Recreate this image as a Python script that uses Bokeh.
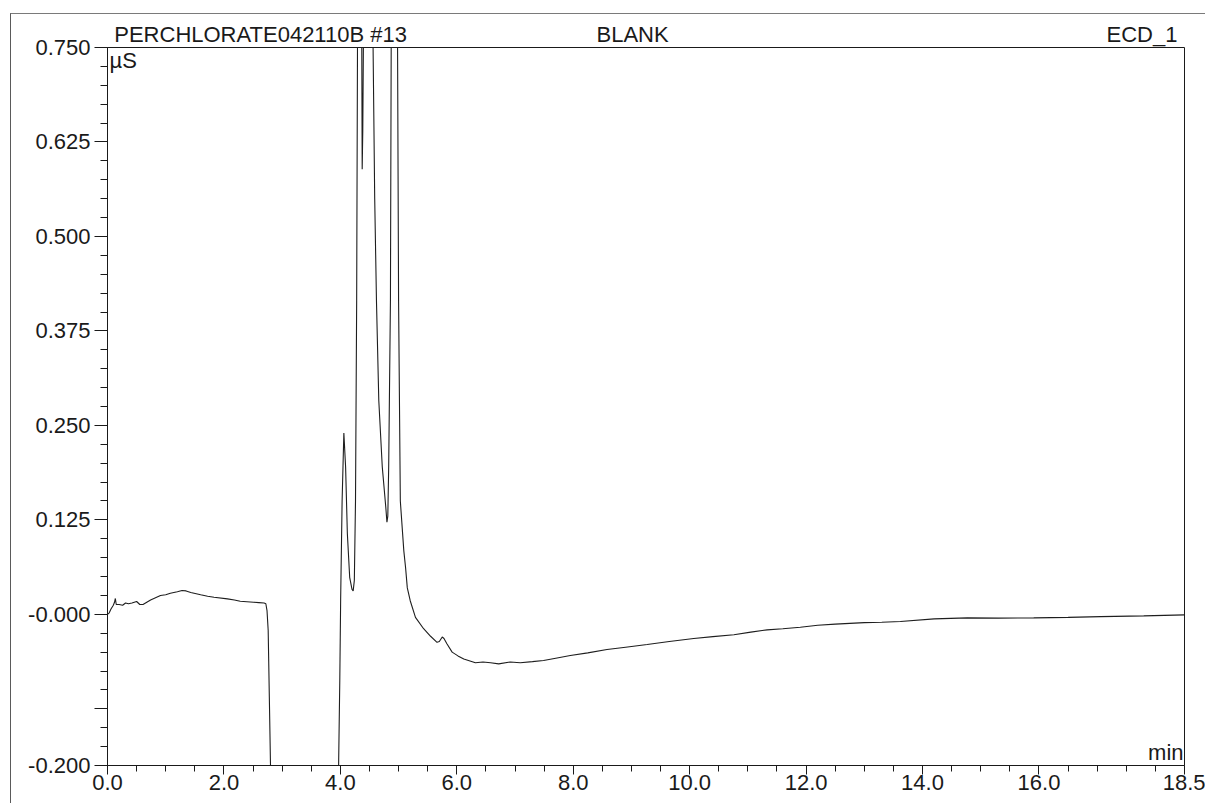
from bokeh.plotting import figure
from bokeh.models import FixedTicker, Label, LinearAxis, Range1d
from bokeh.embed import file_html
from bokeh.resources import INLINE

# ---- data ----
time_min = [
    0.00, 0.03, 0.06, 0.10, 0.12, 0.135, 0.15, 0.20, 0.26, 0.31, 0.36, 0.42, 0.50,
    0.555, 0.61, 0.74, 0.91, 1.00, 1.08, 1.20, 1.28, 1.35, 1.43, 1.60, 1.72, 1.83,
    2.06, 2.18, 2.28, 2.51, 2.60, 2.69, 2.72, 2.74, 2.76, 2.78, 2.80, 2.84, 3.20,
    3.70, 3.94, 3.97, 3.99, 4.005, 4.03, 4.06, 4.09, 4.12, 4.16, 4.20, 4.22, 4.24,
    4.26, 4.28, 4.33, 4.375, 4.385, 4.40, 4.48, 4.555, 4.59, 4.62, 4.66, 4.72, 4.78,
    4.80, 4.815, 4.83, 4.86, 4.875, 4.93, 4.98, 5.00, 5.03, 5.09, 5.12, 5.15, 5.20,
    5.29, 5.43, 5.55, 5.66, 5.70, 5.75, 5.78, 5.83, 5.92, 6.02, 6.12, 6.32, 6.45,
    6.58, 6.72, 6.92, 7.09, 7.30, 7.49, 7.70, 7.95, 8.25, 8.58, 8.90, 9.27, 9.65,
    10.07, 10.40, 10.76, 11.05, 11.33, 11.60, 11.90, 12.20, 12.50, 13.00, 13.30,
    13.62, 14.20, 14.77, 15.30, 15.91, 16.50, 17.06, 17.80, 18.50,
]
signal_us = [
    0.000, 0.002, 0.007, 0.012, 0.016, 0.021, 0.013, 0.013, 0.012, 0.015, 0.014, 0.015, 0.017,
    0.013, 0.013, 0.019, 0.025, 0.026, 0.028, 0.030, 0.0315, 0.031, 0.029, 0.026, 0.024, 0.0226,
    0.0205, 0.019, 0.0173, 0.016, 0.0155, 0.015, 0.014, 0.005, -0.021, -0.110, -0.200, -0.450, -0.700,
    -0.650, -0.400, -0.200, -0.088, 0.020, 0.150, 0.240, 0.195, 0.107, 0.049, 0.033, 0.031, 0.045,
    0.150, 0.415, 1.600, 0.589, 0.640, 0.800, 2.500, 0.800, 0.550, 0.415, 0.283, 0.195, 0.142,
    0.122, 0.130, 0.195, 0.415, 0.800, 3.000, 0.800, 0.415, 0.150, 0.084, 0.062, 0.035, 0.018,
    -0.004, -0.019, -0.029, -0.037, -0.036, -0.030, -0.032, -0.039, -0.050, -0.055, -0.059, -0.064, -0.063,
    -0.064, -0.0655, -0.063, -0.064, -0.0625, -0.061, -0.058, -0.0545, -0.051, -0.0466, -0.0435, -0.040, -0.036,
    -0.032, -0.0295, -0.027, -0.0235, -0.0205, -0.019, -0.017, -0.0145, -0.013, -0.011, -0.0105,
    -0.0095, -0.006, -0.0047, -0.005, -0.0047, -0.004, -0.003, -0.002, -0.0007,
]

x_ticks = [0.0, 2.0, 4.0, 6.0, 8.0, 10.0, 12.0, 14.0, 16.0, 18.5]
x_tick_labels = ["0.0", "2.0", "4.0", "6.0", "8.0", "10.0", "12.0", "14.0", "16.0", "18.5"]
y_ticks = [-0.2, -0.125, 0.0, 0.125, 0.25, 0.375, 0.5, 0.625, 0.75]
y_tick_labels = ["-0.200", "", "-0.000", "0.125", "0.250", "0.375", "0.500", "0.625", "0.750"]

header_texts = ["PERCHLORATE042110B #13", "BLANK", "ECD_1"]
header_pos = [2.63, 9.02, 17.77]
y_unit = "µS"
x_unit = "min"

FONT = "Liberation Sans"
INK = "#1a1a1a"
FS = "22px"

# canvas starts at page (11, 14) because of margin + 1px CSS border
p = figure(width=1195, height=790, output_backend="svg", toolbar_location=None,
           x_range=Range1d(0, 18.5), y_range=Range1d(-0.2, 0.75),
           min_border_left=96, min_border_right=22, min_border_top=33, min_border_bottom=39)
p.margin = (13, 0, 0, 10)
p.styles = {"border-top": "1px solid #7a7a7a", "border-left": "1px solid #5a5a5a"}
p.background_fill_color = "white"
p.border_fill_color = "white"
p.grid.visible = False
p.outline_line_color = INK
p.outline_line_width = 1

x_minor = [i * 0.5 for i in range(1, 37) if (i * 0.5) not in x_ticks]
y_minor = [round(-0.2 + i * 0.025, 3) for i in range(0, 39)]

p.xaxis.ticker = FixedTicker(ticks=x_ticks, minor_ticks=x_minor)
p.xaxis.major_label_overrides = {t: l for t, l in zip(x_ticks, x_tick_labels)}
p.yaxis.ticker = FixedTicker(ticks=y_ticks, minor_ticks=y_minor)
p.yaxis.major_label_overrides = {t: l for t, l in zip(y_ticks, y_tick_labels)}

for ax in (p.xaxis, p.yaxis):
    ax.axis_line_color = INK
    ax.major_tick_line_color = INK
    ax.minor_tick_line_color = INK
    ax.major_tick_in = 0
    ax.minor_tick_in = 0
    ax.major_label_text_font = FONT
    ax.major_label_text_font_size = FS
    ax.major_label_text_color = INK

p.xaxis.major_tick_out = 9
p.xaxis.minor_tick_out = 6
p.xaxis.major_label_standoff = 0
p.yaxis.major_tick_out = 13
p.yaxis.minor_tick_out = 7
p.yaxis.major_label_standoff = 4

# header texts carried by a bare axis above the frame
top = LinearAxis(ticker=FixedTicker(ticks=header_pos, minor_ticks=[]),
                 major_label_overrides={t: s for t, s in zip(header_pos, header_texts)},
                 axis_line_color=None, major_tick_line_color=None, minor_tick_line_color=None,
                 major_tick_out=0, major_label_standoff=1,
                 major_label_text_font=FONT, major_label_text_font_size=FS,
                 major_label_text_color=INK)
p.add_layout(top, "above")

p.line(time_min, signal_us, line_color="#1e1e1e", line_width=1.1)

p.add_layout(Label(x=0, y=0.75, text=y_unit, x_offset=2, y_offset=0,
                   text_align="left", text_baseline="top",
                   text_font=FONT, text_font_size=FS, text_color=INK))
p.add_layout(Label(x=18.5, y=-0.2, text=x_unit, x_offset=-1, y_offset=1,
                   text_align="right", text_baseline="bottom",
                   text_font=FONT, text_font_size=FS, text_color=INK))

open("out.html", "w").write(file_html(p, INLINE))
